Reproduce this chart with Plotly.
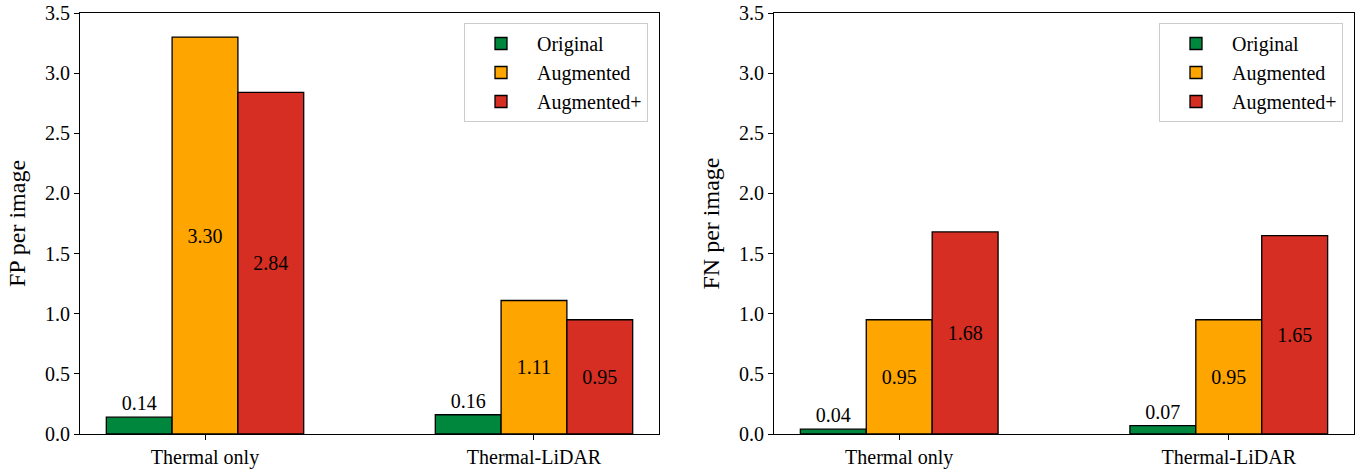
import plotly.graph_objects as go

categories = ["Thermal only", "Thermal-LiDAR"]
series_names = ["Original", "Augmented", "Augmented+"]
fp_values = {
    "Original": [0.14, 0.16],
    "Augmented": [3.30, 1.11],
    "Augmented+": [2.84, 0.95],
}
fn_values = {
    "Original": [0.04, 0.07],
    "Augmented": [0.95, 0.95],
    "Augmented+": [1.68, 1.65],
}
colors = {"Original": "#00873e", "Augmented": "#ffa500", "Augmented+": "#d62e22"}
y_ticks = [0.0, 0.5, 1.0, 1.5, 2.0, 2.5, 3.0, 3.5]

FONT = "Liberation Serif, Times New Roman, serif"

fig = go.Figure()
for panel, (data, xa, ya, leg) in enumerate([
    (fp_values, "x", "y", "legend"),
    (fn_values, "x2", "y2", "legend2"),
]):
    for name in series_names:
        pos = "outside" if name == "Original" else "inside"
        fig.add_trace(go.Bar(
            x=categories, y=data[name], name=name,
            marker=dict(color=colors[name], line=dict(color="black", width=1.3)),
            text=[f"{v:.2f}" for v in data[name]],
            textposition=pos, insidetextanchor="middle",
            textfont=dict(family=FONT, size=20, color="black"),
            constraintext="none", cliponaxis=False,
            xaxis=xa, yaxis=ya, legend=leg,
        ))

axis_common = dict(showline=True, linecolor="black", linewidth=1.2, mirror=True,
                   ticks="outside", ticklen=5, tickwidth=1.2, tickcolor="black",
                   showgrid=False, zeroline=False, automargin=False,
                   tickfont=dict(family=FONT, size=20, color="black"))

legend_common = dict(xanchor="right", yanchor="top", bgcolor="white",
                     bordercolor="#cccccc", borderwidth=1, itemwidth=62,
                     font=dict(family=FONT, size=20), tracegroupgap=2)

fig.update_layout(
    width=1367, height=470,
    margin=dict(l=0, r=0, t=13, b=36),
    paper_bgcolor="white", plot_bgcolor="white",
    barmode="group", bargap=0.4, bargroupgap=0,
    font=dict(family=FONT, size=20, color="black"),
    xaxis=dict(domain=[80/1367, 659/1367], range=[-0.38, 1.38], anchor="y", **axis_common),
    yaxis=dict(range=[0, 3.5], tickvals=y_ticks, tickformat=".1f", anchor="x",
               title=dict(text="FP per image", font=dict(family=FONT, size=24), standoff=12),
               **axis_common),
    xaxis2=dict(domain=[774/1367, 1354/1367], range=[-0.38, 1.38], anchor="y2", **axis_common),
    yaxis2=dict(range=[0, 3.5], tickvals=y_ticks, tickformat=".1f", anchor="x2",
                title=dict(text="FN per image", font=dict(family=FONT, size=24), standoff=12),
                **axis_common),
    legend=dict(x=648/1367, y=(434-23)/421, **legend_common),
    legend2=dict(x=1343/1367, y=(434-23)/421, **legend_common),
)

fig.write_html("out.html", config={"displayModeBar": False},
               post_script="document.body.style.margin='0';document.body.style.overflow='hidden';")
